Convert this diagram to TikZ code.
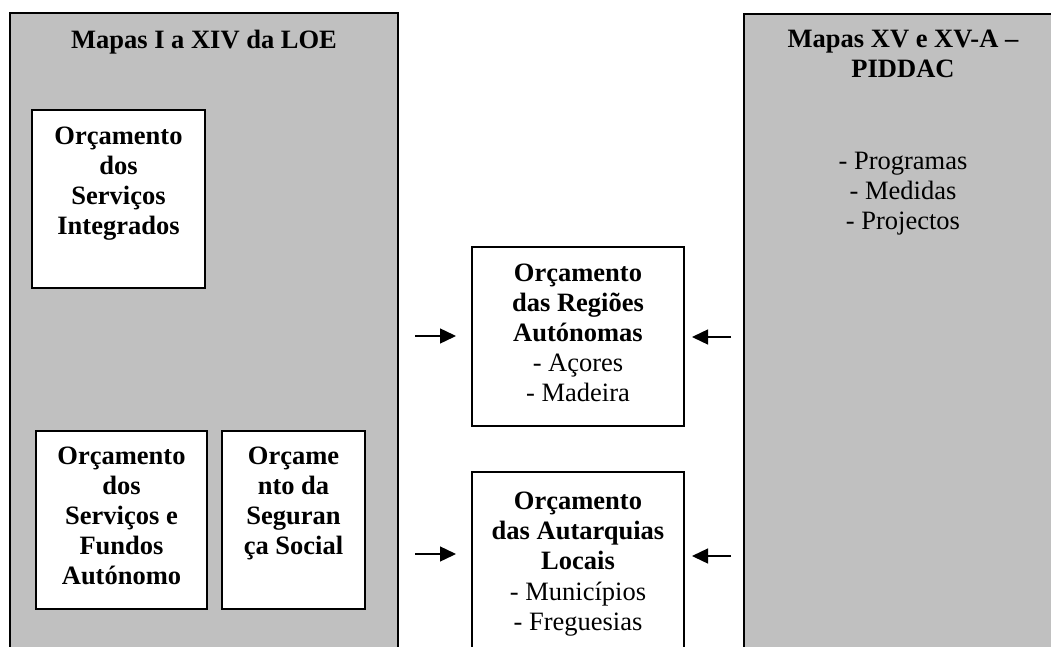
\documentclass[tikz,border=0pt]{standalone}
\usepackage{fontspec}
\setmainfont{Liberation Serif}
\usetikzlibrary{arrows.meta}
\definecolor{panelgray}{HTML}{C0C0C0}
\tikzset{
  panel/.style={draw=black, fill=panelgray, line width=1.3pt, inner sep=0pt, outer sep=0pt, anchor=north west},
  wbox/.style={draw=black, fill=white, line width=1.3pt, inner sep=0pt, outer sep=0pt, anchor=north west},
  btxt/.style={font=\fontsize{26.5}{30}\selectfont\bfseries, align=center, inner sep=0pt, anchor=north},
  rtxt/.style={font=\fontsize{26.5}{30}\selectfont, align=center, inner sep=0pt, anchor=north},
  arr/.style={line width=1.4pt, -{Triangle[length=16pt,width=15pt]}}
}
\begin{document}
\begin{tikzpicture}[x=1pt,y=-1pt]
\clip (0,0) rectangle (1051,647);
\fill[white] (0,0) rectangle (1051,647);
% gray panels
\node[panel, minimum width=388pt, minimum height=700pt] (lg) at (10,13) {};
\node[panel, minimum width=330pt, minimum height=700pt] (rg) at (744,14) {};
% titles
\node[btxt] (lgt) at (204,30) {Mapas I a XIV da LOE};
\node[btxt] (rgt) at (903,30) {Mapas XV e XV-A –\\PIDDAC};
\node[rtxt] (rgl) at (903,152) {- Programas\\- Medidas\\- Projectos};
% white boxes
\node[wbox, minimum width=173pt, minimum height=178pt] (integ) at (32,110) {};
\node[btxt] (integt) at ([yshift=-17pt]integ.north) {Orçamento\\dos\\Serviços\\Integrados};
\node[wbox, minimum width=171pt, minimum height=178pt] (fundos) at (36,431) {};
\node[btxt] (fundost) at ([yshift=-16pt]fundos.north) {Orçamento\\dos\\Serviços e\\Fundos\\Autónomo};
\node[wbox, minimum width=143pt, minimum height=178pt] (seg) at (222,431) {};
\node[btxt] (segt) at ([yshift=-16pt]seg.north) {Orçame\\nto da\\Seguran\\ça Social};
\node[wbox, minimum width=212pt, minimum height=179pt] (reg) at (472,247) {};
\node[btxt] (regt) at ([yshift=-17pt]reg.north) {Orçamento\\das Regiões\\Autónomas};
\node[rtxt] (regl) at ([yshift=-107pt]reg.north) {- Açores\\- Madeira};
\node[wbox, minimum width=212pt, minimum height=260pt] (aut) at (472,472) {};
\node[btxt] (autt) at ([yshift=-20pt]aut.north) {Orçamento\\das Autarquias\\Locais};
\node[rtxt] (autl) at ([yshift=-110pt]aut.north) {- Municípios\\- Freguesias};
% arrows
\coordinate (a1s) at (415,336);
\coordinate (a2s) at (415,554);
\coordinate (a3s) at (731,337);
\coordinate (a4s) at (731,556);
\draw[arr, shorten >=16pt] (a1s) -- (a1s -| reg.west);
\draw[arr, shorten >=16pt] (a2s) -- (a2s -| aut.west);
\draw[arr, shorten >=8pt] (a3s) -- (a3s -| reg.east);
\draw[arr, shorten >=8pt] (a4s) -- (a4s -| aut.east);
\end{tikzpicture}
\end{document}
